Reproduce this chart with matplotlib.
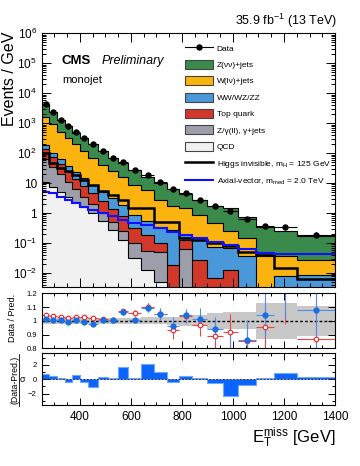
import numpy as np
import matplotlib
matplotlib.use("Agg")
import matplotlib.pyplot as plt
from matplotlib.patches import Patch
from matplotlib.lines import Line2D
from matplotlib.ticker import FixedLocator, MultipleLocator, LogLocator, NullFormatter, FuncFormatter

plt.rcParams["font.family"] = ["Liberation Sans", "DejaVu Sans"]
plt.rcParams["mathtext.fontset"] = "custom"
plt.rcParams["mathtext.rm"] = "Liberation Sans"
plt.rcParams["mathtext.it"] = "Liberation Sans:italic"
plt.rcParams["mathtext.bf"] = "Liberation Sans:bold"

# binning in MET (GeV)
edges = [250, 280, 310, 340, 370, 400, 430, 470, 510, 550, 590, 640, 690, 740, 790,
         840, 900, 960, 1020, 1090, 1160, 1250, 1400]

# events / GeV
data = [4400, 2340, 1320, 810, 490, 316, 200, 117, 71, 50, 28, 18, 10.7, 6.2, 4.6,
        2.8, 1.66, 1.13, 0.65, 0.36, 0.33, 0.19]
znunu = [2690, 1387, 790, 499, 285, 198, 137, 75, 46, 30.4, 19.1, 10.4, 7.45, 4.6, 2.9,
         1.89, 1.3, 1.2, 0.6, 0.31, 0.209, 0.15]
wlnu = [1478, 828, 462, 278, 176, 105, 59, 36, 21.3, 14.8, 8.0, 5.4, 2.4, 1.5, 1.29,
        0.72, 0.39, 0.174, 0.112, 0.036, 0.028, 0.019]
diboson = [44, 29, 21, 14, 9.9, 6.8, 4.4, 2.7, 1.8, 1.0, 0.57, 0.38, 0.255, 0.256, 0.064,
           0.12, 0.069, 0.058, 0.036, 0, 0.0078, 0.0087]
top = [75, 40, 22, 12.8, 7.8, 4.8, 2.5, 1.5, 0.91, 0.54, 0.22, 0.124, 0.05, 0.019, 0.063,
       0.0275, 0.0069, 0.0126, 0, 0, 0, 0]
zll = [52, 28, 14.8, 7.7, 3.9, 1.9, 1.0, 0.44, 0.22, 0.124, 0.068, 0.043, 0.045, 0, 0.063,
       0, 0, 0, 0, 0, 0, 0]
qcd = [11, 7.6, 5.2, 3.5, 2.4, 1.6, 1.0, 0.56, 0.28, 0.126, 0.032, 0.0126, 0.005, 0, 0,
       0, 0, 0, 0, 0, 0, 0]
higgs = [100, 47, 32, 24.5, 19, 12.9, 8.7, 5.6, 4.0, 2.75, 1.48, 1.48, 0.52, 0.52, 0.148,
         0.129, 0.1, 0.079, 0.052, 0.04, 0.0148, 0.0063]
axial = [5.2, 4.5, 3.5, 2.75, 2.1, 1.55, 1.29, 1.0, 0.78, 0.6, 0.47, 0.41, 0.32, 0.24, 0.18,
         0.15, 0.105, 0.087, 0.063, 0.047, 0.042, 0.042]

# ratio panel
ratio_post = [1.015, 1.01, 1.003, 0.993, 1.01, 0.993, 0.978, 1.01, 1.005, 1.064, 1.003, 1.096,
              1.052, 0.966, 1.04, 1.015, 0.94, 0.77, 0.863, 1.04, 1.32, 1.076]
ratio_pre = [1.042, 1.035, 1.03, 1.022, 1.03, 1.03, 1.02, 1.015, 1.01, 1.07, 1.058, 1.1,
             1.05, 0.93, 1.035, 0.968, 0.887, 0.92, 0.853, 0.954, 1.28, 0.87]
ratio_err = [0.005, 0.006, 0.007, 0.008, 0.01, 0.012, 0.013, 0.015, 0.017, 0.02, 0.022, 0.033,
             0.045, 0.06, 0.05, 0.08, 0.09, 0.13, 0.14, 0.16, 0.3, 0.28]
band = [0.02, 0.02, 0.02, 0.02, 0.02, 0.02, 0.02, 0.02, 0.02, 0.02, 0.02, 0.025, 0.025, 0.03,
        0.037, 0.04, 0.06, 0.062, 0.062, 0.13, 0.13, 0.11]
pull = [0.7, 0.37, 0.2, -0.4, 0.6, -0.4, -1.05, 0.25, 0.15, 1.65, 0.1, 2.05, 0.95, -0.45, 0.5,
        0.18, -0.6, -2.3, -0.8, 0.1, 0.8, 0.25]

c_z = "#3a8a4b"
c_w = "#fbb30f"
c_vv = "#4a98d9"
c_top = "#d2382a"
c_zll = "#9c9faa"
c_qcd = "#f1f1f1"

W, H = 360.0, 466.0
edges = np.array(edges, dtype=float)
centers = 0.5 * (edges[1:] + edges[:-1])
halfw = 0.5 * (edges[1:] - edges[:-1])

fig = plt.figure(figsize=(3.6, 4.66), dpi=100)
ax = fig.add_axes([0.1158, 0.3841, 0.8148, 0.5444])
axr = fig.add_axes([0.1158, 0.2526, 0.8148, 0.1176])
axp = fig.add_axes([0.1158, 0.1309, 0.8148, 0.1110])

# stack, drawn as cumulative histograms from top to bottom
layers = [(znunu, c_z), (wlnu, c_w), (diboson, c_vv), (top, c_top), (zll, c_zll), (qcd, c_qcd)]
comps = [np.array(v, dtype=float) for v, _ in layers]
for i, (_, col) in enumerate(layers):
    cum = np.sum(comps[i:], axis=0)
    cum = np.where(cum > 0, cum, 1e-6)
    ax.stairs(cum, edges, baseline=1e-6, fill=True, facecolor=col, edgecolor="black",
              linewidth=0.8)

ax.stairs(higgs, edges, baseline=None, color="black", linewidth=1.8)
ax.stairs(axial, edges, baseline=None, color="#1010ff", linewidth=1.5)

data_arr = np.array(data)
data_err = np.sqrt(data_arr * 2 * halfw) / (2 * halfw)
ax.errorbar(centers, data, xerr=halfw, yerr=data_err, fmt="o", color="black", ms=3.6,
            elinewidth=0.8, capsize=0)

ax.set_yscale("log")
ax.set_xlim(250, 1400)
ax.set_ylim(3.4e-3, 1e6)


def log_fmt(v, pos):
    e = int(round(np.log10(v)))
    if e == 0:
        return "1"
    if e == 1:
        return "10"
    return r"$10^{%d}$" % e


ax.yaxis.set_major_locator(LogLocator(base=10, numticks=20))
ax.yaxis.set_major_formatter(FuncFormatter(log_fmt))
ax.yaxis.set_minor_locator(LogLocator(base=10, subs=np.arange(2, 10), numticks=20))
ax.yaxis.set_minor_formatter(NullFormatter())

for a in (ax, axr, axp):
    a.xaxis.set_major_locator(MultipleLocator(200))
    a.xaxis.set_minor_locator(MultipleLocator(50))
    a.tick_params(which="both", direction="in", top=True, right=True, width=0.7)
    for s in a.spines.values():
        s.set_linewidth(0.8)
    a.set_xlim(250, 1400)

ax.tick_params(which="major", length=6.5, labelsize=8.5)
ax.tick_params(which="minor", length=3)
ax.tick_params(axis="x", labelbottom=False)
axr.tick_params(which="major", length=5, labelsize=5.5)
axr.tick_params(which="minor", length=2.5)
axr.tick_params(axis="x", labelbottom=False)
axp.tick_params(which="major", length=5, labelsize=5.5)
axp.tick_params(which="minor", length=2.5)
axp.tick_params(axis="x", labelsize=8.5, pad=4)

# axis titles placed like the ROOT style
fig.text(10 / W, 1 - 32 / H, "Events / GeV", rotation=90, ha="center", va="top", fontsize=11.5)
fig.text(12.5 / W, 1 - 294 / H, "Data / Pred.", rotation=90, ha="center", va="top", fontsize=6.5)
fig.text(15.5 / W, 1 - 380 / H, "(Data-Pred.)", rotation=90, ha="center", va="center",
         fontsize=6.3)
fig.text(22.5 / W, 1 - 380 / H, "σ", ha="center", va="center", fontsize=6.5)
fig.add_artist(Line2D([19 / W, 19 / W], [1 - 354 / H, 1 - 406 / H], color="black", lw=0.6))

# legend
handles = [
    Line2D([0], [0], color="black", marker="o", ms=3.6, lw=0.8),
    Patch(facecolor=c_z, edgecolor="#444444", lw=0.8),
    Patch(facecolor=c_w, edgecolor="#444444", lw=0.8),
    Patch(facecolor=c_vv, edgecolor="#444444", lw=0.8),
    Patch(facecolor=c_top, edgecolor="#444444", lw=0.8),
    Patch(facecolor=c_zll, edgecolor="#444444", lw=0.8),
    Patch(facecolor=c_qcd, edgecolor="#444444", lw=0.8),
    Line2D([0], [0], color="black", lw=1.8),
    Line2D([0], [0], color="#1010ff", lw=1.5),
]
labels = ["Data", "Z(νν)+jets", "W(lν)+jets", "WW/WZ/ZZ", "Top quark",
          "Z/γ(ll), γ+jets", "QCD", r"Higgs invisible, m$_\mathrm{H}$ = 125 GeV",
          r"Axial-vector, m$_\mathrm{med}$ = 2.0 TeV"]
ax.legend(handles, labels, loc="upper left", bbox_to_anchor=(0.475, 0.977), frameon=False,
          fontsize=6, handlelength=3.3, handleheight=1.3, labelspacing=0.85,
          borderpad=0, handletextpad=0.5)

ax.text(0.069, 0.89, "CMS", transform=ax.transAxes, fontsize=9.5, fontweight="bold",
        va="center")
ax.text(0.205, 0.89, "Preliminary", transform=ax.transAxes, fontsize=9, style="italic",
        va="center")
ax.text(0.069, 0.815, "monojet", transform=ax.transAxes, fontsize=8, va="center")
fig.text(0.936, 0.955, r"35.9 fb$^{-1}$ (13 TeV)", ha="right", va="center", fontsize=9)

# ratio panel
band_arr = np.array(band)
axr.stairs(1 + band_arr, edges, baseline=1 - band_arr, fill=True, color="#c8c8c8", lw=0)
axr.axhline(1, color="black", ls=(0, (2, 1.5)), lw=1.0)
axr.errorbar(centers, ratio_pre, xerr=halfw, yerr=ratio_err, fmt="o", mfc="white",
             mec="#ee2222", color="#ee4444", ms=3.3, mew=0.8, elinewidth=0.8, capsize=0)
axr.errorbar(centers, ratio_post, xerr=halfw, yerr=ratio_err, fmt="o", color="#1a6ee0",
             ecolor="#4a8ff0", ms=3.5, elinewidth=0.8, capsize=0)
axr.set_ylim(0.8, 1.2)
axr.yaxis.set_major_locator(FixedLocator([0.8, 0.9, 1.0, 1.1, 1.2]))
axr.yaxis.set_major_formatter(FuncFormatter(lambda v, p: "%g" % round(v, 2)))

# pull panel
axp.stairs(pull, edges, baseline=0, fill=True, facecolor="#0a64ff", edgecolor="#6fa8ff",
           lw=0.8)
axp.axhline(0, color="#333333", ls=(0, (2, 1.5)), lw=0.7)
axp.set_ylim(-3.6, 3.6)
axp.yaxis.set_major_locator(FixedLocator([-2, 0, 2]))
axp.yaxis.set_minor_locator(MultipleLocator(1))
axp.set_xlabel(r"E$_\mathrm{T}^\mathrm{miss}$ [GeV]", fontsize=12, loc="right", labelpad=2)

fig.savefig("out.png", dpi=100)
